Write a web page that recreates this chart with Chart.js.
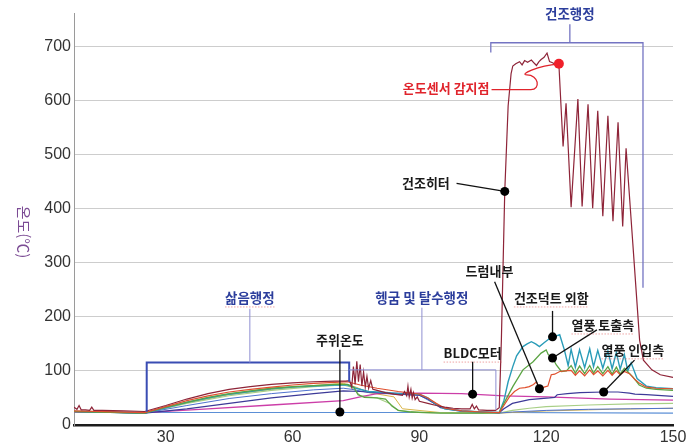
<!DOCTYPE html>
<html lang="ko">
<head>
<meta charset="utf-8">
<title>세탁 건조기 행정별 온도 변화</title>
<script src="https://cdn.jsdelivr.net/npm/chart.js@4/dist/chart.umd.min.js"></script>
<style>
  html, body { margin: 0; padding: 0; background: #ffffff; }
  #wrap { width: 693px; height: 445px; }
</style>
</head>
<body>
<div id="wrap"><canvas id="chart" width="693" height="445"></canvas></div>
<script>
// Time axis (minutes) and temperature (°C) samples for each sensor
const xTicks = [30, 60, 90, 120, 150];
const yTicks = [0, 100, 200, 300, 400, 500, 600, 700];

// 건조히터
const heaterX = [8.3, 9, 9.5, 10, 11, 12, 12.5, 13, 15, 20, 25, 30, 35, 40, 45, 50, 55, 60, 65, 70, 72.5,
  73.5, 74, 74.4, 74.8, 75.2, 75.6, 76, 76.4, 76.8, 77.2, 77.6, 78, 78.5, 79, 80, 82, 84, 86,
  86.5, 87, 87.3, 87.6, 88, 88.3, 88.6, 89, 89.5, 90, 92, 94, 96, 98, 100, 102, 102.5, 103, 103.5, 104, 106, 108,
  108.9, 109.4, 110.2, 111, 111.7, 112.1, 112.8, 113.7, 114.3, 114.9, 115.6, 116.5, 117.2, 117.7, 118.3, 118.8,
  119.5, 120.2, 120.8, 121.5, 122.2, 123,
  124, 124.7, 125.9, 127.5, 128.5, 129.9, 131, 132.2, 133.4, 134.6, 135.8, 137, 138.1, 138.9, 140.5, 142.1, 143, 145, 147, 150];
const heaterY = [33, 29, 36, 28, 28, 27, 33, 27, 27, 26, 25, 36, 48, 58, 66, 71, 75, 78, 80, 81, 81,
  82, 70, 108, 75, 118, 80, 112, 72, 98, 70, 90, 68, 82, 66, 64, 60, 57, 55,
  62, 54, 72, 52, 66, 50, 60, 47, 52, 44, 40, 36, 33, 31, 30, 30, 38, 30, 35, 28, 27, 27,
  32, 157, 432, 590, 650, 664, 668, 672, 666, 674, 671, 675, 669, 665, 672, 676,
  680, 688, 672, 670, 667, 668,
  515, 595, 403, 603, 404, 593, 401, 581, 386, 572, 377, 560, 367, 512, 335, 157, 120, 102, 93, 88];

// 드럼내부
const drumX = [8.3, 25, 30, 35, 40, 45, 50, 55, 60, 65, 70, 73, 76, 80, 85, 90, 92, 94, 96, 100, 105,
  108.9, 110, 111.3, 112.5, 113.7, 115, 116, 117, 117.7, 118.4, 119.5, 120.4, 121.2, 122, 123.2, 124.5,
  125.9, 126.9, 127.9, 129.1, 130.3, 131.2, 132.2, 133.4, 134.6, 135.6, 136.6, 137.5, 138.5, 139.7,
  141, 142.1, 143.7, 146, 150];
const drumY = [26, 23, 34, 45, 54, 61, 66, 70, 74, 77, 79, 80, 74, 68, 62, 57, 50, 40, 31, 26, 24,
  23, 36, 52, 62, 68, 69, 71, 75, 80, 66, 70, 72, 93, 94, 99, 100,
  101, 92, 100, 91, 102, 93, 100, 91, 101, 92, 100, 93, 99, 95,
  84, 77, 70, 68, 67];

// 건조덕트 외함
const ductX = [8.3, 25, 30, 35, 40, 45, 50, 55, 60, 65, 70, 73, 75, 78, 82, 86, 90, 92, 94, 96, 100, 105,
  108.9, 110, 111, 112.1, 113, 114.5, 115.5, 116.5, 117.5, 118.4, 119.5, 120.8, 121.8, 123.2, 124.3, 125.2,
  125.9, 126.9, 127.9, 129.1, 130.3, 131.2, 132.2, 133.4, 134.6, 135.6, 136.6, 137.5, 138.5, 139.3, 140.1,
  141.5, 143.7, 146, 150];
const ductY = [25, 22, 32, 42, 50, 57, 62, 67, 70, 72, 74, 74, 68, 62, 60, 58, 57, 50, 38, 30, 26, 24,
  23, 45, 80, 108, 128, 145, 150, 154, 150, 145, 152, 160, 163, 167, 139, 110,
  140, 107, 139, 106, 141, 108, 138, 105, 137, 104, 134, 103, 130, 100, 115,
  86, 72, 69, 67];

// 열풍 토출측
const outletX = [8.3, 25, 30, 35, 40, 45, 50, 55, 60, 65, 70, 73, 74.5, 75.5, 77, 80, 82, 83.5, 85, 88, 95, 100, 105,
  108.9, 110, 112.1, 114.5, 116.9, 118.8, 120, 120.5, 121.5, 122.4, 123.6,
  124.8, 125.9, 126.9, 127.9, 129.1, 130.3, 131.2, 132.2, 133.4, 134.6, 135.6, 136.6, 137.5, 138.5,
  140.5, 142, 143.7, 146, 150];
const outletY = [25, 22, 33, 42, 51, 58, 63, 68, 71, 73, 75, 75, 70, 56, 51, 50, 48, 35, 27, 24, 22, 22, 22,
  23, 40, 71, 102, 117, 133, 139, 130, 124, 111, 99,
  100, 110, 96, 109, 95, 110, 96, 108, 95, 108, 94, 107, 94, 105,
  89, 74, 68, 66, 64];

// 열풍 인입측
const inletX = [8.3, 25, 35, 45, 55, 65, 72, 76, 80, 85, 90, 92, 95, 100, 105, 108.9, 110, 112, 116,
  120.8, 122, 122.6, 125, 128, 133.6, 137, 139.7, 141, 143.7, 150];
const inletY = [25, 22, 30, 40, 50, 58, 63, 62, 60, 57, 55, 48, 32, 26, 24, 23, 30, 40, 47,
  50, 51, 56, 58, 60, 61, 61, 59, 57, 56, 53];

// 기타 센서
const blueX = [8.3, 25, 35, 45, 55, 65, 72, 74, 78, 85, 90, 93, 96, 100, 108.9, 112, 120, 130, 140, 150];
const blueY = [25, 22, 36, 49, 58, 65, 68, 66, 60, 57, 55, 42, 30, 25, 22, 24, 27, 29, 30, 31];
const lightGreenX = [8.3, 25, 35, 45, 55, 65, 72, 74, 76, 80, 83, 85, 90, 100, 108.9, 112, 116, 120, 130, 140, 150];
const lightGreenY = [25, 22, 40, 54, 64, 71, 74, 70, 54, 50, 40, 27, 23, 22, 22, 27, 31, 34, 37, 39, 40];
const yellowX = [8.3, 25, 35, 45, 55, 65, 72, 75, 78, 84, 86, 95, 108.9, 120, 135, 150];
const yellowY = [25, 22, 41, 56, 66, 73, 77, 70, 60, 52, 30, 23, 22, 26, 29, 31];

// BLDC모터
const bldcX = [8.3, 25, 40, 55, 72, 76, 80, 90, 100, 110, 120, 135, 150];
const bldcY = [24, 23, 30, 37, 45, 52, 58, 59, 58, 54, 52, 48, 46];

// 주위온도
const ambientX = [8.3, 25, 70, 110, 150];
const ambientY = [24, 23, 23, 23, 22];

const pts = (xs, ys) => xs.map((x, i) => ({ x: x, y: ys[i] }));

// Stage brackets and callouts, placed in axis units
const stageBrackets = [
  { path: [[25.5, 24.6], [25.5, 115.5], [73.4, 115.5], [73.4, 80]], color: '#3a4db3', width: 2 },
  { path: [[49.9, 115.5], [49.9, 215]], color: '#8f8fd2', width: 1 },
  { path: [[73.4, 102], [108.1, 102], [108.1, 28]], color: '#8f8fd2', width: 1 },
  { path: [[90.6, 102], [90.6, 217]], color: '#8f8fd2', width: 1 },
  { path: [[106.9, 689], [106.9, 707], [142.9, 707], [142.9, 254]], color: '#7474c2', width: 1.3 },
  { path: [[125.6, 707], [125.6, 741]], color: '#7474c2', width: 1.3 }
];
const stageLabels = [
  { text: '삶음행정', x: 49.9, y: 235, underline: true },
  { text: '헹굼 및 탈수행정', x: 90.6, y: 235, underline: false },
  { text: '건조행정', x: 125.6, y: 760, underline: false }
];
const callouts = [
  { text: '건조히터', tx: 97.2, ty: 448, align: 'right', from: [98.8, 447], dot: [110.2, 432], underline: false },
  { text: '주위온도', tx: 71.2, ty: 157.5, align: 'center', from: [71.2, 139], dot: [71.2, 24], underline: false },
  { text: 'BLDC모터', tx: 102.6, ty: 133, align: 'center', from: [102.6, 117], dot: [102.6, 57], underline: true },
  { text: '드럼내부', tx: 106.6, ty: 285, align: 'center', from: [107.8, 265], dot: [118.4, 67], underline: false },
  { text: '건조덕트 외함', tx: 121.2, ty: 235, align: 'center', from: [121.5, 211], dot: [121.5, 163], underline: true },
  { text: '열풍 토출측', tx: 133.4, ty: 185, align: 'center', from: [132.0, 176], dot: [121.5, 124], underline: true },
  { text: '열풍 인입측', tx: 140.5, ty: 139, align: 'center', from: [140.9, 120], dot: [133.6, 61], underline: true }
];
const sensorNote = { text: '온도센서 감지점', tx: 106.6, ty: 624, dot: [123, 668] };

const KR = '"Noto Sans CJK KR", "Noto Sans", sans-serif';

const whiteBg = {
  id: 'whiteBg',
  beforeDraw(chart) {
    const c = chart.ctx;
    c.save();
    c.fillStyle = '#ffffff';
    c.fillRect(0, 0, chart.width, chart.height);
    c.restore();
  }
};

const yTitle = {
  id: 'yTitle',
  afterDraw(chart) {
    const c = chart.ctx;
    c.save();
    c.translate(24, 232);
    c.rotate(Math.PI / 2);
    c.font = '15px ' + KR;
    c.fillStyle = '#7b4b94';
    c.textAlign = 'center';
    c.textBaseline = 'middle';
    c.fillText('온도(℃)', 0, 0);
    c.restore();
  }
};

// faint dotted proofing underline under a label
function dottedUnderline(c, text, x, y, align) {
  const w = c.measureText(text).width;
  const left = align === 'right' ? x - w : align === 'center' ? x - w / 2 : x;
  c.save();
  c.beginPath();
  c.setLineDash([1.5, 1.5]);
  c.moveTo(left, y + 9);
  c.lineTo(left + w, y + 9);
  c.strokeStyle = 'rgba(225, 90, 90, 0.55)';
  c.lineWidth = 1;
  c.stroke();
  c.restore();
}

const annotations = {
  id: 'annotations',
  afterDatasetsDraw(chart) {
    const c = chart.ctx;
    const X = v => chart.scales.x.getPixelForValue(v);
    const Y = v => chart.scales.y.getPixelForValue(v);
    c.save();
    c.lineCap = 'butt';

    stageBrackets.forEach(b => {
      c.beginPath();
      b.path.forEach((p, i) => (i ? c.lineTo(X(p[0]), Y(p[1])) : c.moveTo(X(p[0]), Y(p[1]))));
      c.strokeStyle = b.color;
      c.lineWidth = b.width;
      c.stroke();
    });

    c.font = '700 13.5px ' + KR;
    c.textAlign = 'center';
    c.textBaseline = 'middle';
    stageLabels.forEach(l => {
      c.fillStyle = '#2c3e9c';
      c.fillText(l.text, X(l.x), Y(l.y));
      if (l.underline) dottedUnderline(c, l.text, X(l.x), Y(l.y), 'center');
    });

    callouts.forEach(o => {
      c.beginPath();
      c.moveTo(X(o.from[0]), Y(o.from[1]));
      c.lineTo(X(o.dot[0]), Y(o.dot[1]));
      c.strokeStyle = '#111111';
      c.lineWidth = 1.3;
      c.stroke();
      c.beginPath();
      c.arc(X(o.dot[0]), Y(o.dot[1]), 4.5, 0, Math.PI * 2);
      c.fillStyle = '#000000';
      c.fill();
      c.font = '600 13px ' + KR;
      c.fillStyle = '#1a1a1a';
      c.textAlign = o.align;
      c.fillText(o.text, X(o.tx), Y(o.ty));
      if (o.underline) dottedUnderline(c, o.text, X(o.tx), Y(o.ty), o.align);
    });

    // temperature sensor trip point
    const sx = X(sensorNote.tx), sy = Y(sensorNote.ty);
    const dx = X(sensorNote.dot[0]), dy = Y(sensorNote.dot[1]);
    c.font = '600 13px ' + KR;
    c.fillStyle = '#e0242c';
    c.textAlign = 'right';
    c.fillText(sensorNote.text, sx, sy);
    c.beginPath();
    c.moveTo(sx + 2, sy + 2);
    c.lineTo(dx - 28, sy + 2);
    c.bezierCurveTo(dx - 18, sy + 2, dx - 20, dy + 11, dx - 32, dy + 11);
    c.bezierCurveTo(dx - 40, dy + 11, dx - 22, dy + 2, dx, dy);
    c.strokeStyle = '#e0242c';
    c.lineWidth = 1.3;
    c.stroke();
    c.beginPath();
    c.arc(dx, dy, 5, 0, Math.PI * 2);
    c.fillStyle = '#f0202a';
    c.fill();
    c.restore();
  }
};

const line = (label, xs, ys, color, width) => ({
  label: label,
  data: pts(xs, ys),
  borderColor: color,
  backgroundColor: color,
  borderWidth: width,
  pointRadius: 0,
  tension: 0,
  fill: false
});

new Chart(document.getElementById('chart'), {
  type: 'line',
  data: {
    datasets: [
      line('건조히터', heaterX, heaterY, '#8e2438', 1.2),
      line('드럼내부', drumX, drumY, '#e0502e', 1.2),
      line('열풍 토출측', outletX, outletY, '#5ba443', 1.3),
      line('건조덕트 외함', ductX, ductY, '#2a9cb8', 1.4),
      line('열풍 인입측', inletX, inletY, '#3d3a98', 1.2),
      line('BLDC모터', bldcX, bldcY, '#cc3ea8', 1.3),
      line('센서 A', blueX, blueY, '#4f72cf', 1),
      line('센서 B', lightGreenX, lightGreenY, '#a8cf86', 1.1),
      line('센서 C', yellowX, yellowY, '#d9b548', 1),
      line('주위온도', ambientX, ambientY, '#5b8fd6', 1.1)
    ]
  },
  options: {
    responsive: false,
    animation: false,
    devicePixelRatio: 1,
    layout: { padding: { left: 0, right: 20, top: 13, bottom: 0 } },
    plugins: {
      legend: { display: false },
      tooltip: { enabled: false }
    },
    scales: {
      x: {
        type: 'linear',
        min: 8.3,
        max: 150,
        afterBuildTicks: axis => { axis.ticks = xTicks.map(v => ({ value: v })); },
        afterFit: axis => { axis.height = 20; },
        grid: { display: false, drawTicks: false },
        border: { display: true, color: '#1c1c1c', width: 2.5 },
        ticks: {
          padding: 3,
          color: '#333333',
          font: { family: '"Liberation Sans", Arial, sans-serif', size: 16 },
          maxRotation: 0
        }
      },
      y: {
        min: 0,
        max: 762,
        afterBuildTicks: axis => { axis.ticks = yTicks.map(v => ({ value: v })); },
        afterFit: axis => { axis.width = 74; },
        grid: { color: '#cdcdcd', lineWidth: 1, drawTicks: false },
        border: { display: true, color: '#9a9a9a', width: 1 },
        ticks: {
          padding: 3,
          color: '#333333',
          font: { family: '"Liberation Sans", Arial, sans-serif', size: 16 }
        }
      }
    }
  },
  plugins: [whiteBg, yTitle, annotations]
});
</script>
</body>
</html>
